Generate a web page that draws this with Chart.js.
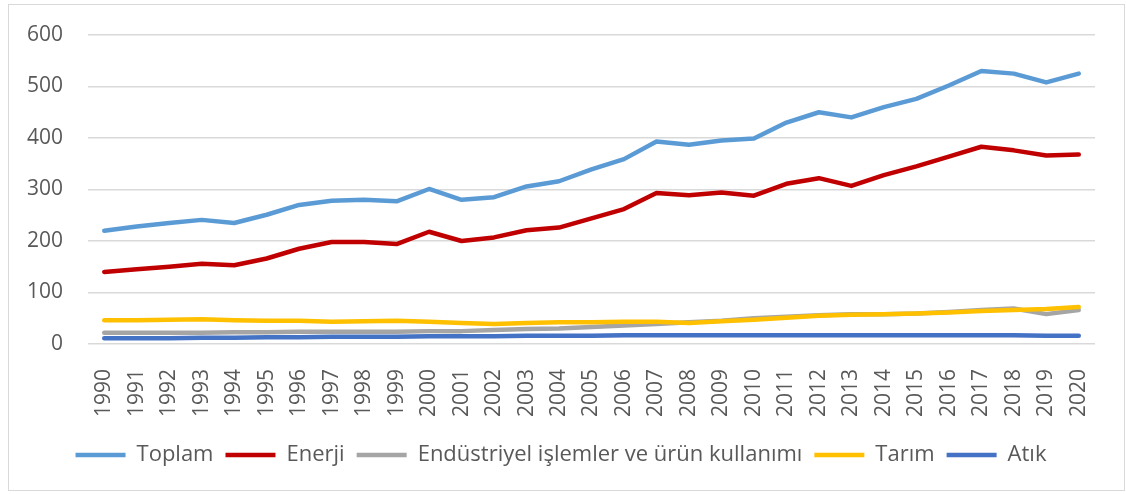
<!DOCTYPE html>
<html>
<head>
<meta charset="utf-8">
<script src="https://cdn.jsdelivr.net/npm/chart.js@4"></script>
<style>
  body { margin: 0; background: #fff; }
  .box {
    position: absolute;
    left: 8px;
    top: 4px;
    width: 1115px;
    height: 485px;
    border: 1px solid #d9d9d9;
  }
</style>
</head>
<body>
<div class="box"><canvas id="emissions-chart" width="1115" height="485"></canvas></div>
<script>
// years on the x axis
const years = ['1990', '1991', '1992', '1993', '1994', '1995', '1996', '1997', '1998', '1999',
               '2000', '2001', '2002', '2003', '2004', '2005', '2006', '2007', '2008', '2009',
               '2010', '2011', '2012', '2013', '2014', '2015', '2016', '2017', '2018', '2019', '2020'];

// series values
const toplam = [220, 228, 235, 241, 235, 251, 270, 278, 280, 277,
                301, 280, 285, 306, 316, 339, 359, 393, 387, 395,
                399, 430, 450, 440, 460, 476, 502, 530, 525, 508, 525];
const enerji = [140, 145, 150, 156, 153, 166, 185, 198, 198, 194,
                218, 200, 207, 221, 226, 244, 262, 293, 289, 294,
                288, 311, 322, 307, 328, 345, 364, 383, 376, 366, 368];
const endustriyel = [22, 22, 22, 22, 23, 23, 24, 24, 24, 24,
                     25, 25, 27, 29, 30, 33, 36, 39, 42, 45,
                     50, 53, 56, 58, 58, 59, 62, 66, 69, 58, 66];
const tarim = [46, 46, 47, 48, 46, 45, 45, 43, 44, 45,
               43, 41, 39, 41, 42, 42, 43, 43, 41, 44,
               47, 51, 55, 57, 58, 59, 61, 64, 66, 68, 72];
const atik = [11, 11, 11, 12, 12, 13, 13, 14, 14, 14,
              15, 15, 15, 16, 16, 16, 17, 17, 17, 17,
              17, 17, 17, 17, 17, 17, 17, 17, 17, 16, 16];

const yTicks = [0, 100, 200, 300, 400, 500, 600];

const textColor = '#595959';
const gridColor = '#d9d9d9';
const fontFamily = '"Open Sans", sans-serif';

function series(label, data, color) {
    return {
        label: label,
        data: data,
        borderColor: color,
        backgroundColor: color,
        borderWidth: 4.5,
        pointRadius: 0,
        tension: 0,
        borderCapStyle: 'round',
        borderJoinStyle: 'round'
    };
}

// nudge the legend a little right and down, like the original
const legendShift = {
    id: 'legendShift',
    afterLayout: function(chart) {
        chart.legend.left += 9;
        chart.legend.right += 9;
        chart.legend.top += 2;
        chart.legend.bottom += 2;
    }
};

document.addEventListener('DOMContentLoaded', function() {
    const ctx = document.getElementById('emissions-chart').getContext('2d');

    // listed last-to-first so that Atık is drawn on top, legend is reversed back
    new Chart(ctx, {
        type: 'line',
        data: {
            labels: years,
            datasets: [
                series('Atık', atik, '#4472C4'),
                series('Tarım', tarim, '#FFC000'),
                series('Endüstriyel işlemler ve ürün kullanımı', endustriyel, '#A5A5A5'),
                series('Enerji', enerji, '#C00000'),
                series('Toplam', toplam, '#5B9BD5')
            ]
        },
        plugins: [legendShift],
        options: {
            responsive: false,
            animation: false,
            layout: {
                padding: { left: 0, right: 29, top: 30, bottom: 16 }
            },
            scales: {
                x: {
                    offset: true,
                    grid: { display: false },
                    border: { display: false },
                    ticks: {
                        color: textColor,
                        font: { family: fontFamily, size: 21 },
                        minRotation: 90,
                        maxRotation: 90,
                        autoSkip: false,
                        padding: 17
                    },
                    afterFit: function(scale) { scale.height = 86; }
                },
                y: {
                    min: 0,
                    max: 600,
                    afterBuildTicks: function(scale) {
                        scale.ticks = yTicks.map(v => ({ value: v }));
                    },
                    grid: { color: gridColor, lineWidth: 1.5, drawTicks: false },
                    border: { display: false },
                    ticks: {
                        color: textColor,
                        font: { family: fontFamily, size: 21 },
                        padding: 25
                    },
                    afterFit: function(scale) {
                        scale.width = 79;
                        scale.paddingTop = 0;
                        scale.paddingBottom = 0;
                    }
                }
            },
            plugins: {
                legend: {
                    position: 'bottom',
                    reverse: true,
                    labels: {
                        color: textColor,
                        font: { family: fontFamily, size: 22 },
                        usePointStyle: true,
                        pointStyle: 'line',
                        pointStyleWidth: 50,
                        padding: 12
                    }
                },
                tooltip: { enabled: false }
            }
        }
    });
});
</script>
</body>
</html>
